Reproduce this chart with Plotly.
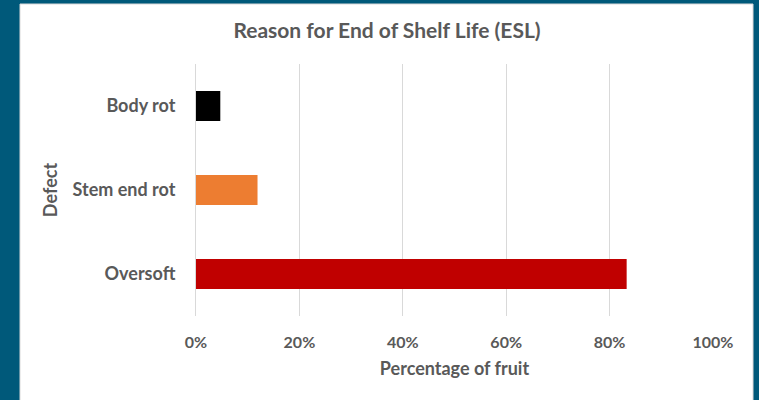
import plotly.graph_objects as go

categories = ["Oversoft", "Stem end rot", "Body rot"]
values = [0.833, 0.119, 0.047]
colors = ["#C00000", "#ED7D31", "#000000"]
x_ticks = [0, 0.2, 0.4, 0.6, 0.8, 1.0]
x_tick_labels = ["0%", "20%", "40%", "60%", "80%", "100%"]

W, H = 759, 400
L, R, T, B = 196, 46, 64, 84
pw, ph = W - L - R, H - T - B

FONT = "Lato"
GRAY = "#595959"

fig = go.Figure(go.Bar(
    y=categories, x=values, orientation="h",
    marker=dict(color=colors, line=dict(width=0)),
    width=0.357,
))

def px_to_paper_x(px):
    return (px - L) / pw

def px_to_paper_y(py):
    return (H - B - py) / ph

fig.update_layout(
    width=W, height=H,
    margin=dict(l=L, r=R, t=T, b=B),
    paper_bgcolor="#00597A",
    plot_bgcolor="rgba(0,0,0,0)",
    showlegend=False,
    title=dict(
        text="<b>Reason for End of Shelf Life (ESL)</b>",
        x=387 / W, xanchor="center", xref="container",
        y=1 - 31 / H, yanchor="middle", yref="container",
        font=dict(family=FONT, size=21, color=GRAY),
    ),
    xaxis=dict(
        range=[0, 1], tickvals=x_ticks, ticktext=[f"<b>{t}</b>" for t in x_tick_labels],
        showgrid=True, gridcolor="#D9D9D9", gridwidth=1,
        zeroline=False, showline=False,
        ticks="", ticklabelstandoff=15,
        tickfont=dict(family=FONT, size=16, color=GRAY),
        title=dict(text="<b>Percentage of fruit</b>", standoff=12,
                   font=dict(family=FONT, size=18, color=GRAY)),
        fixedrange=True,
    ),
    yaxis=dict(
        categoryorder="array", categoryarray=categories,
        range=[-0.5, 2.5],
        showgrid=False, zeroline=False,
        showline=True, linecolor="#D9D9D9", linewidth=1,
        ticks="", ticklabelstandoff=16,
        tickmode="array", tickvals=categories, ticktext=[f"<b>{c}</b>" for c in categories],
        tickfont=dict(family=FONT, size=18, color=GRAY),
        title=dict(text="<b>Defect</b>", standoff=10,
                   font=dict(family=FONT, size=18, color=GRAY)),
        fixedrange=True,
    ),
    shapes=[dict(
        type="rect", xref="paper", yref="paper", layer="below",
        x0=px_to_paper_x(20), x1=px_to_paper_x(753),
        y0=px_to_paper_y(401), y1=px_to_paper_y(4),
        fillcolor="white", line=dict(color="#D9D9D9", width=1),
    )],
)

fig.write_html("out.html")
